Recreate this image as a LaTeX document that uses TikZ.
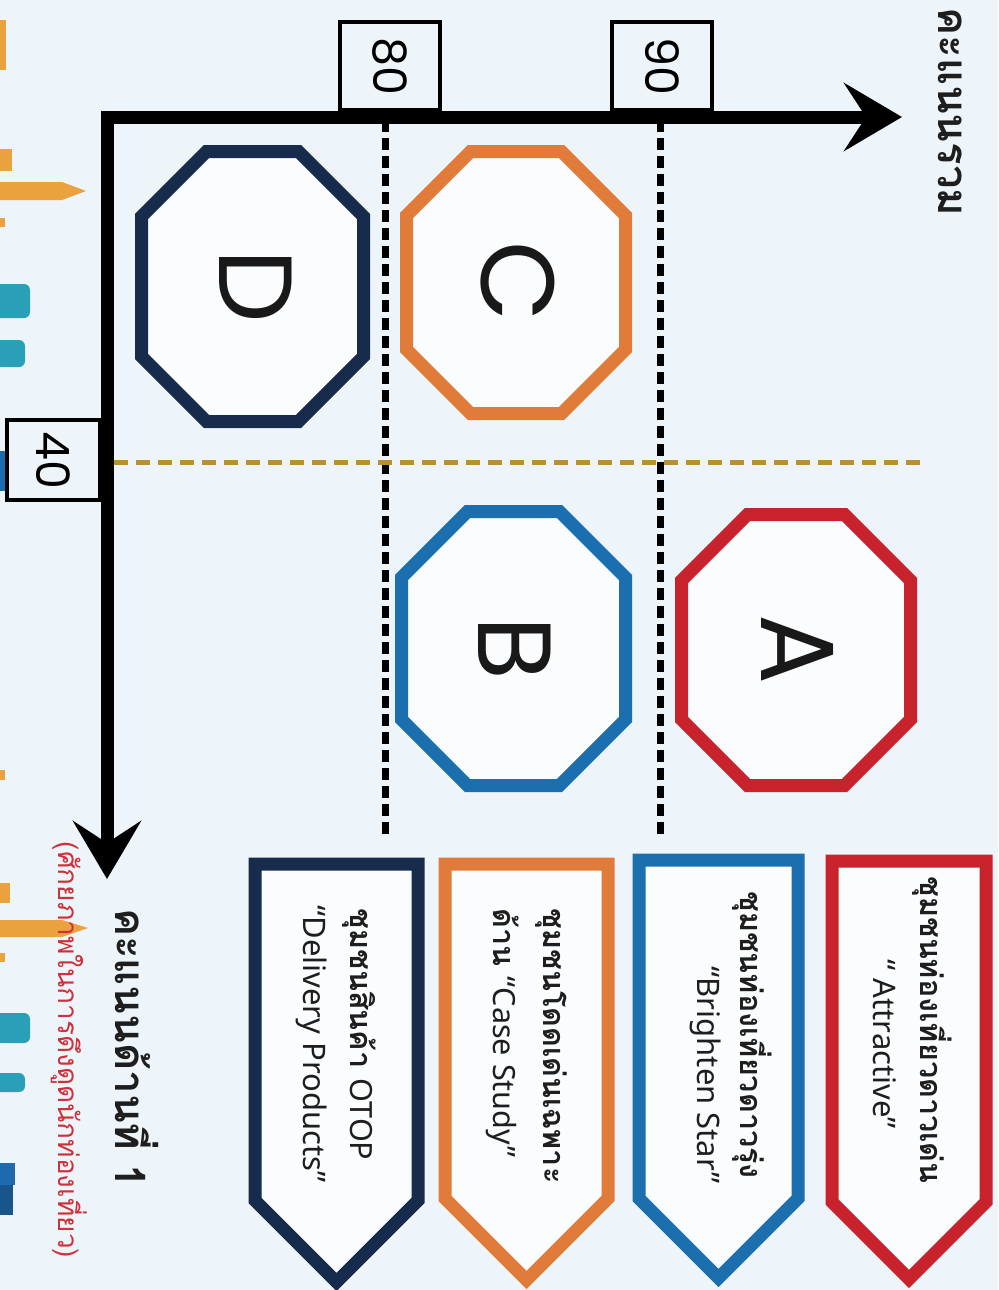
\documentclass[tikz,border=0pt]{standalone}
\usepackage{fontspec}
\usepackage{graphicx}
\usetikzlibrary{arrows.meta}
\newfontfamily\thaifont[Script=Thai]{Loma}
\newfontfamily\latfont{Noto Sans}
\newfontfamily\geofont{Poppins}
\definecolor{bg}{HTML}{EEF5FA}
\definecolor{inner}{HTML}{FAFCFE}
\definecolor{cred}{HTML}{C8232C}
\definecolor{cblue}{HTML}{1C6FAE}
\definecolor{corange}{HTML}{E07B3A}
\definecolor{cnavy}{HTML}{172B4D}
\definecolor{cgold}{HTML}{B8912E}
\definecolor{txt}{HTML}{1E1E1E}
\definecolor{redtxt}{HTML}{D0303A}
\definecolor{dorange}{HTML}{E9A23E}
\definecolor{dteal}{HTML}{2A9FB8}
\definecolor{dblue}{HTML}{1E6AAE}
\newcommand\octo[6]{%
 \draw[#1] ({#2+#6},#3) -- ({#4-#6},#3) -- (#4,{#3+#6}) -- (#4,{#5-#6}) -- ({#4-#6},#5) -- ({#2+#6},#5) -- (#2,{#5-#6}) -- (#2,{#3+#6}) -- cycle;}
\newcommand\banner[6]{%
 \draw[#1] (#2,#4) -- (#3,#4) -- (#3,{#6-(#3-#2)/2}) -- ({(#2+#3)/2},#6) -- (#2,{#6-(#3-#2)/2}) -- cycle;}
\tikzset{
 shapeline/.style={line width=6.5pt, line join=miter, miter limit=10, fill=inner},
 rt/.style={rotate=-90, inner sep=0pt},
 thailine/.style={rt, font=\thaifont\bfseries\fontsize{15.3}{18}\selectfont, text=txt},
 latline/.style={rt, font=\latfont\fontsize{15.5}{18}\selectfont, text=txt},
 axislabel/.style={rt, font=\thaifont\bfseries\fontsize{21}{24}\selectfont, text=txt},
 redlabel/.style={rt, font=\thaifont\fontsize{14}{16}\selectfont, text=redtxt},
 bigletter/.style={rt, font=\geofont\fontsize{52}{52}\selectfont, text=black!90},
 tickbox/.style={rt, draw=black, line width=2pt, fill=bg, font=\geofont\fontsize{23}{23}\selectfont},
 guide/.style={line width=3.5pt, dash pattern=on 6pt off 3pt, black},
 goldline/.style={line width=2.5pt, dash pattern=on 7pt off 4pt, cgold},
 axisline/.style={line width=6.5pt, line join=miter, black,
   {Stealth[length=29pt, width=34pt, inset=11pt]}-{Stealth[length=29pt, width=34pt, inset=11pt]}}
}
\begin{document}
\begin{tikzpicture}[x=0.5pt,y=-0.5pt]
\useasboundingbox[fill=bg] (0,0) rectangle (998,1290);
% background chart fragments at the left edge
\fill[dorange] (0,20) rectangle (6,70);
\fill[dorange] (0,149) rectangle (12,171);
\fill[dorange] (0,182) -- (62,182) -- (86,191) -- (62,200) -- (0,200) -- cycle;
\fill[dorange] (0,218) rectangle (5,227);
\fill[dteal, rounded corners=3pt] (-5,284) rectangle (30,318);
\fill[dteal, rounded corners=3pt] (-5,340) rectangle (25,367);
\fill[dblue] (0,451) rectangle (10,491);
\fill[dorange] (0,770) rectangle (5,780);
\fill[dorange] (0,883) rectangle (10,903);
\fill[dorange] (0,920) -- (62,920) -- (88,928) -- (62,937) -- (0,937) -- cycle;
\fill[dorange] (0,953) rectangle (5,962);
\fill[dteal, rounded corners=3pt] (-5,1013) rectangle (30,1043);
\fill[dteal, rounded corners=3pt] (-5,1073) rectangle (25,1092);
\fill[dblue] (0,1163) rectangle (15,1185);
\fill[dblue!80!black] (0,1185) rectangle (13,1215);

% coordinates
\coordinate (O) at (107,117);
\coordinate (xtip) at (902,117);
\coordinate (ytip) at (107,879);
\coordinate (g80a) at (385,120);
\coordinate (g80b) at (385,835);
\coordinate (g90a) at (660,120);
\coordinate (g90b) at (660,835);
\coordinate (g40a) at (114,462);
\coordinate (g40b) at (920,462);

% guide lines
\draw[guide] (g80a) -- (g80b);
\draw[guide] (g90a) -- (g90b);
\draw[goldline] (g40a) -- (g40b);

% octagons
\octo{shapeline, draw=cred}{681.5}{514.5}{910.5}{785.5}{66}
\octo{shapeline, draw=cblue}{401.5}{511.5}{625.5}{785.5}{66}
\octo{shapeline, draw=corange}{406.5}{151.5}{625.5}{413.5}{64}
\octo{shapeline, draw=cnavy}{141.5}{151.5}{363.5}{421.5}{65}
\node[bigletter] (la) at (798,650) {A};
\node[bigletter] (lb) at (515,648) {B};
\node[bigletter] (lc) at (518,282) {C};
\node[bigletter] (ld) at (256,286) {D};

% banners
\banner{shapeline, draw=cred}{832}{986}{861}{0}{1279}
\banner{shapeline, draw=cblue}{639}{798}{860}{0}{1278}
\banner{shapeline, draw=corange}{445}{608}{864}{0}{1280}
\banner{shapeline, draw=cnavy}{255}{418}{864}{0}{1282}

\node[thailine, anchor=base] (ta1) at (920,1030) {ชุมชนท่องเที่ยวดาวเด่น};
\node[latline, anchor=base] (ta2) at (873,1044) {“ Attractive”};
\node[thailine, anchor=base] (tb1) at (740,1035) {ชุมชนท่องเที่ยวดาวรุ่ง};
\node[latline, anchor=base] (tb2) at (697,1075) {“Brighten Star”};
\node[thailine, anchor=base west] (tc1) at (543,908) {ชุมชนโดดเด่นเฉพาะ};
\node[thailine, anchor=base west] (tc2) at (493,908) {ด้าน {\latfont\mdseries “Case Study”}};
\node[thailine, anchor=base west] (td1) at (350,908) {ชุมชนสินค้า {\latfont\mdseries OTOP}};
\node[latline, anchor=base west] (td2) at (303,905) {“Delivery Products”};

% axes
\draw[axisline] (xtip) -- (O) -- (ytip);

% tick boxes
\node[tickbox, minimum width=44pt, minimum height=50pt] (b80) at (390,66) {80};
\node[tickbox, minimum width=44pt, minimum height=50pt] (b90) at (662,66) {90};
\node[tickbox, minimum width=40pt, minimum height=46.5pt] (b40) at (53.5,460) {40};

% axis labels
\node[axislabel, anchor=base] (ylab) at (938,112) {คะแนนรวม};
\node[axislabel, anchor=base] (xlab) at (115,1048) {คะแนนด้านที่ 1};
\node[redlabel, anchor=base] (xsub) at (58,1050) {(ศักยภาพในการดึงดูดนักท่องเที่ยว)};
\end{tikzpicture}
\end{document}
